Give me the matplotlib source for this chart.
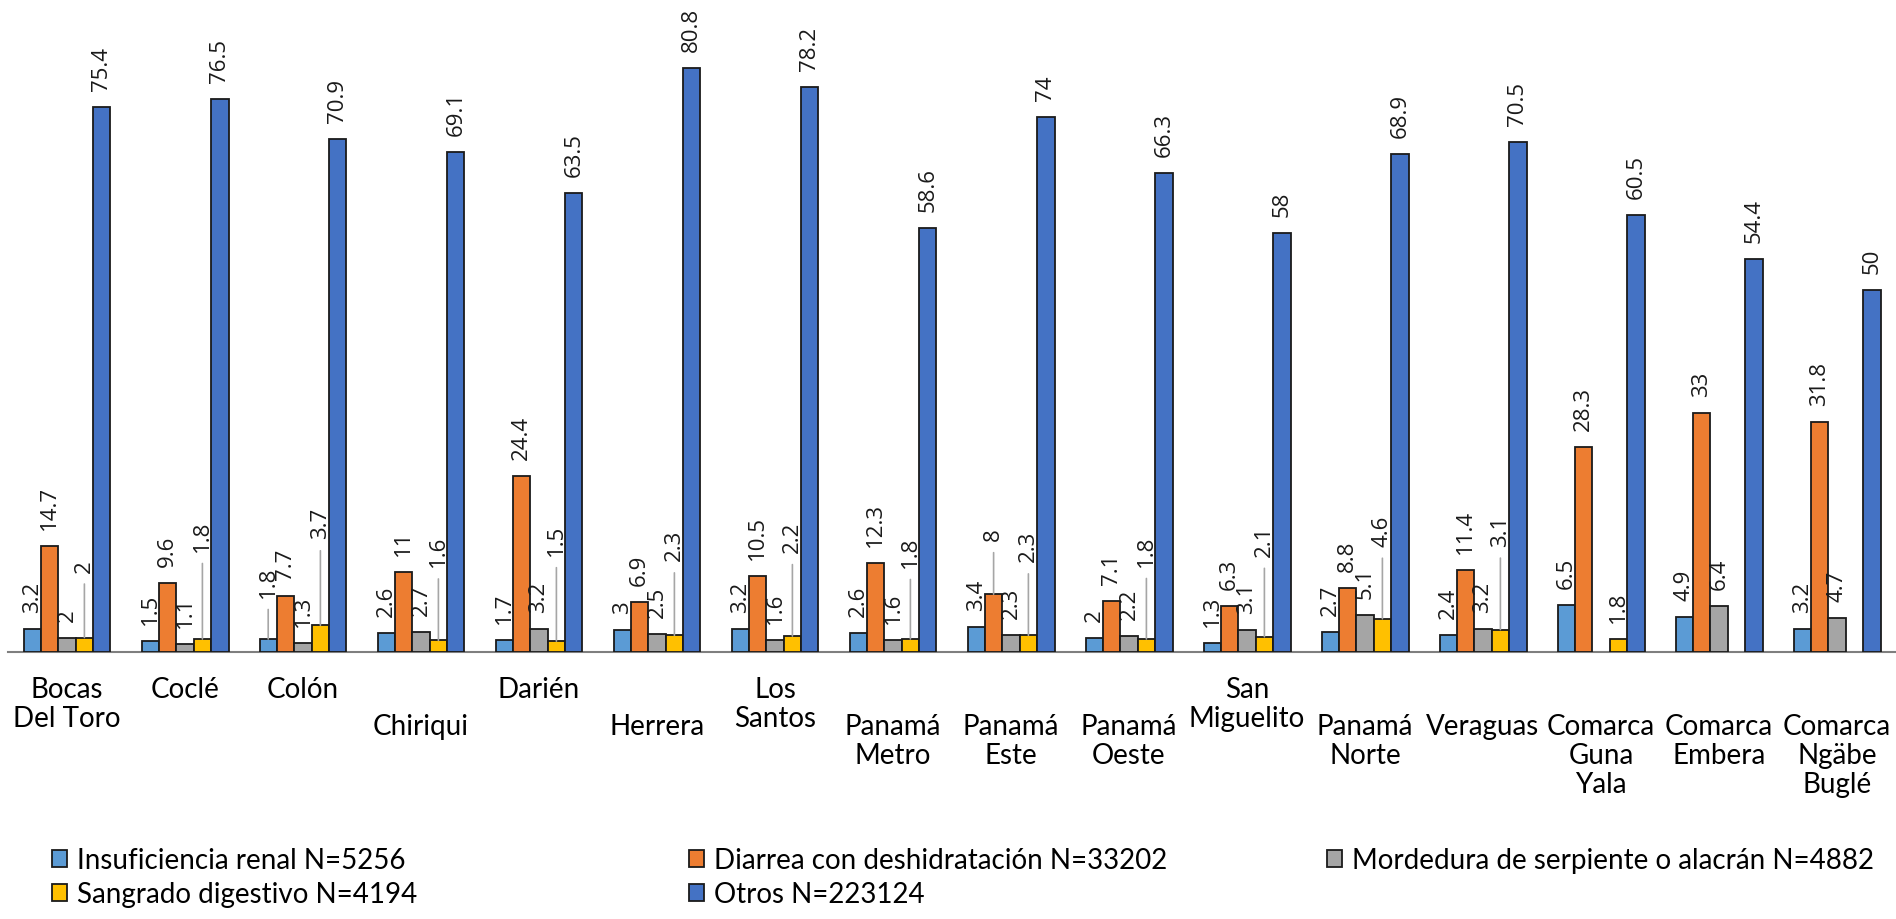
import matplotlib
matplotlib.use("Agg")
import matplotlib.pyplot as plt
import numpy as np

# ---- data -------------------------------------------------------------
categories = [
    "Bocas\nDel Toro", "Coclé", "Colón", "Chiriqui", "Darién", "Herrera",
    "Los\nSantos", "Panamá\nMetro", "Panamá\nEste", "Panamá\nOeste",
    "San\nMiguelito", "Panamá\nNorte", "Veraguas", "Comarca\nGuna\nYala",
    "Comarca\nEmbera", "Comarca\nNgäbe\nBuglé",
]
series_names = [
    "Insuficiencia renal N=5256",
    "Diarrea con deshidratación N=33202",
    "Mordedura de serpiente o alacrán N=4882",
    "Sangrado digestivo N=4194",
    "Otros N=223124",
]
insuficiencia = [3.2, 1.5, 1.8, 2.6, 1.7, 3, 3.2, 2.6, 3.4, 2, 1.3, 2.7, 2.4, 6.5, 4.9, 3.2]
diarrea = [14.7, 9.6, 7.7, 11, 24.4, 6.9, 10.5, 12.3, 8, 7.1, 6.3, 8.8, 11.4, 28.3, 33, 31.8]
mordedura = [2, 1.1, 1.3, 2.7, 3.2, 2.5, 1.6, 1.6, 2.3, 2.2, 3.1, 5.1, 3.2, None, 6.4, 4.7]
sangrado = [2, 1.8, 3.7, 1.6, 1.5, 2.3, 2.2, 1.8, 2.3, 1.8, 2.1, 4.6, 3.1, 1.8, None, None]
otros = [75.4, 76.5, 70.9, 69.1, 63.5, 80.8, 78.2, 58.6, 74, 66.3, 58, 68.9, 70.5, 60.5, 54.4, 50]
series_values = [insuficiencia, diarrea, mordedura, sangrado, otros]

# ---- styling / layout -------------------------------------------------
colors = ["#5B9BD5", "#ED7D31", "#A5A5A5", "#FFC000", "#4472C4"]
label_font = "Open Sans"
text_font = "Lato"

# distance (pixels) between bar top and its value label
default_lift = 17
label_lift = {
    (3, 0): 66, (3, 1): 88, (3, 2): 87, (3, 3): 74, (3, 4): 86, (3, 5): 75,
    (3, 6): 84, (3, 7): 72, (3, 8): 74, (3, 9): 73, (3, 10): 81, (3, 11): 73,
    (3, 12): 84, (0, 2): 42, (1, 8): 54,
}
# vertical row at which each category label starts
label_row = [0, 0, 0, 1, 0, 1, 0, 1, 1, 1, 0, 1, 1, 1, 1, 1]

W, H = 1896, 920
fig = plt.figure(figsize=(W / 100, H / 100), dpi=100)
ax = fig.add_axes([8 / W, (H - 653) / H, (W - 8) / W, 653 / H])

n_cat = len(categories)
x = np.arange(n_cat)
bar_w = 17.4 / 118
offsets = (np.arange(5) - 2) * bar_w

containers = []
for s, (vals, col) in enumerate(zip(series_values, colors)):
    heights = [np.nan if v is None else v for v in vals]
    bc = ax.bar(x + offsets[s], heights, width=bar_w, color=col,
                edgecolor="#1a1a1a", linewidth=1.3, label=series_names[s], zorder=3)
    containers.append(bc)
    for i, v in enumerate(vals):
        if v is None:
            continue
        lift = label_lift.get((s, i), default_lift)
        txt = f"{v:g}"
        arrow = None
        if lift > 30:
            arrow = dict(arrowstyle="-", color="#a6a6a6", lw=1.2,
                         shrinkA=7, shrinkB=0, relpos=(0.5, 0.0))
        ax.annotate(txt, xy=(x[i] + offsets[s], v), xytext=(0, lift),
                    textcoords="offset pixels", rotation=90, ha="center",
                    va="bottom", fontsize=16, family=label_font,
                    color="#1a1a1a", arrowprops=arrow, zorder=4)

ax.set_xlim(-0.5, n_cat - 0.5)
ax.set_ylim(0, 653 / 7.23)
for side in ["left", "right", "top"]:
    ax.spines[side].set_visible(False)
ax.spines["bottom"].set_color("#7f7f7f")
ax.spines["bottom"].set_linewidth(1.5)
ax.set_yticks([])
ax.set_xticks(x)
ax.tick_params(axis="x", length=0, labelbottom=False)

for i, cat in enumerate(categories):
    ax.annotate(cat, xy=(x[i], 0), xycoords=("data", "axes fraction"),
                xytext=(0, -(24 + 37 * label_row[i])), textcoords="offset pixels",
                ha="center", va="top", fontsize=20, family=text_font,
                linespacing=1.15, color="#000000", annotation_clip=False)

# legend in three columns
col_x = [52, 689, 1327]
col_handles = [[containers[0], containers[3]], [containers[1], containers[4]], [containers[2]]]
for cx, hs in zip(col_x, col_handles):
    fig.legend(handles=hs, labels=[h.get_label() for h in hs], loc="upper left",
               bbox_to_anchor=(cx / W, (H - 848) / H), frameon=False,
               borderpad=0, borderaxespad=0, handlelength=0.55, handleheight=0.55,
               handletextpad=0.35, labelspacing=0.3,
               prop=dict(family=text_font, size=20))

fig.savefig("out.png", dpi=100)
